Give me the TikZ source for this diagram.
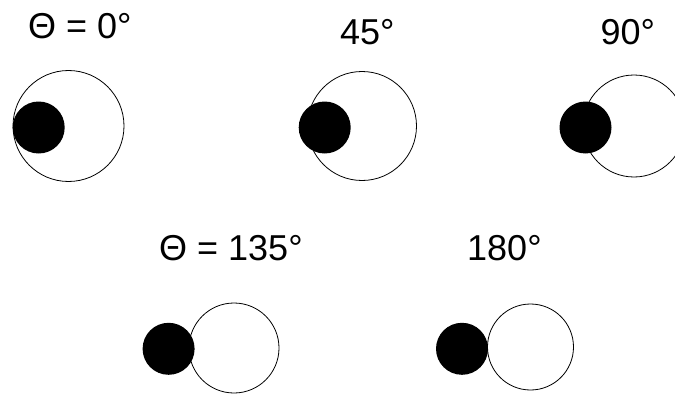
\documentclass[tikz,border=0pt]{standalone}
\usepackage{fontspec}
\setmainfont{Liberation Sans}
\begin{document}
\begin{tikzpicture}[x=1pt,y=-1pt,
  ring/.style={circle,draw=black,line width=0.8pt,fill=white,inner sep=0pt},
  disc/.style={circle,fill=black,inner sep=0pt,minimum size=52pt},
  lbl/.style={anchor=base west,inner sep=0pt,font=\fontsize{36}{40}\selectfont}]
\useasboundingbox (0,0) rectangle (675,396);
\begin{scope}
\clip (0,0) rectangle (675,396);
% 0 deg
\node[ring,minimum size=111pt] (r1) at (68.5,126) {};
\node[disc] (d1) at (38.7,127.5) {};
% 45 deg
\node[ring,minimum size=109pt] (r2) at (362,126) {};
\node[disc] (d2) at (324.7,127.5) {};
% 90 deg
\node[ring,minimum size=102pt] (r3) at (634,126) {};
\node[disc] (d3) at (585.5,127.5) {};
% 135 deg
\node[ring,minimum size=90pt] (r4) at (234,348) {};
\node[disc] (d4) at (168.6,348.8) {};
% 180 deg
\node[ring,minimum size=86pt] (r5) at (530.5,347) {};
\node[disc] (d5) at (462,348.8) {};
\end{scope}
\node[lbl] (t1) at (28,38.3) {Θ = 0°};
\node[lbl] (t2) at (340,45) {45°};
\node[lbl] (t3) at (600.5,45) {90°};
\node[lbl] (t4) at (159,260) {Θ = 135°};
\node[lbl] (t5) at (467,260) {180°};
\end{tikzpicture}
\end{document}
